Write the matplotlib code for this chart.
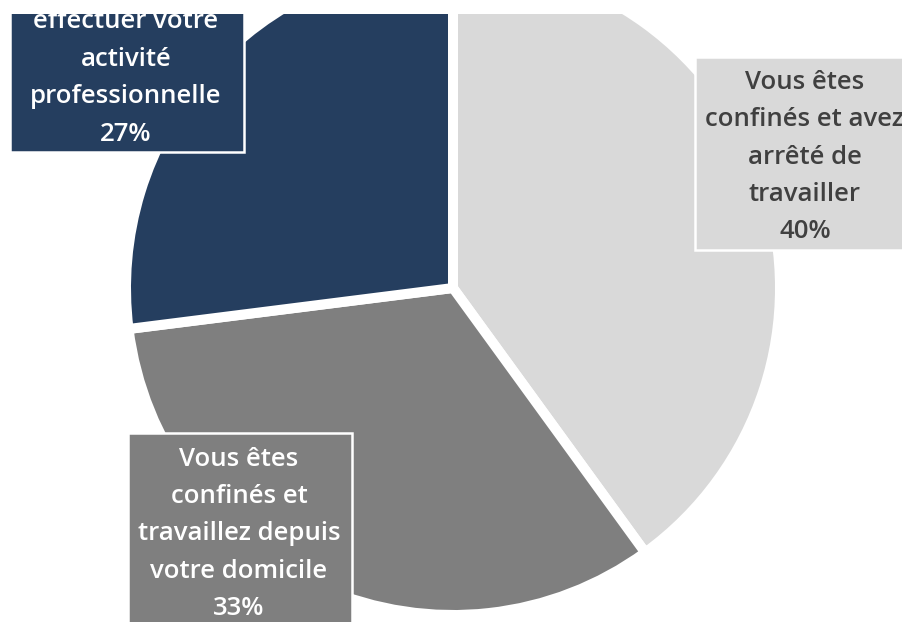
import matplotlib.pyplot as plt
from matplotlib.patches import Rectangle

W, H = 903, 622
TOP = 14  # blank strip above the cropped chart

categories = ["Vous êtes\nconfinés et avez\narrêté de\ntravailler",
              "Vous êtes\nconfinés et\ntravaillez depuis\nvotre domicile",
              "effectuer votre\nactivité\nprofessionnelle"]
shares = [40, 33, 27]
colors = ["#d9d9d9", "#7f7f7f", "#253e5f"]
text_colors = ["#404040", "white", "white"]

# layout in pixels from the top-left corner of the picture
center = (453, 288)
radius = 327
boxes = [(695, 57, 920, 250), (128, 433, 352, 640), (10, -60, 244, 152)]
text_pos = [(805, 157), (239, 534), (126, 78)]

plt.rcParams['font.family'] = ['Open Sans', 'DejaVu Sans']

fig = plt.figure(figsize=(W / 100, H / 100), dpi=100)
ax = fig.add_axes([0, 0, 1, (H - TOP) / H])

wedges, _ = ax.pie(shares, colors=colors, startangle=90, counterclock=False,
                   center=(center[0], H - center[1]), radius=radius,
                   wedgeprops=dict(edgecolor='white', linewidth=7.2))
for w in wedges:
    w.set_clip_on(True)
    w.set_clip_path(ax.patch)

for (l, t, r, b), (tx, ty), cat, s, col, tcol in zip(boxes, text_pos, categories,
                                                   shares, colors, text_colors):
    ax.add_patch(Rectangle((l, H - b), r - l, b - t, facecolor=col,
                           edgecolor='white', linewidth=1.8, zorder=3))
    ax.text(tx, H - ty, f"{cat}\n{s}%", ha='center', va='center',
            color=tcol, fontsize=18.5, fontweight='semibold', linespacing=1.65,
            zorder=4, clip_on=True)

ax.set_xlim(0, W)
ax.set_ylim(0, H - TOP)
ax.set_aspect('auto')
ax.axis('off')

plt.savefig("out.png", dpi=100)
